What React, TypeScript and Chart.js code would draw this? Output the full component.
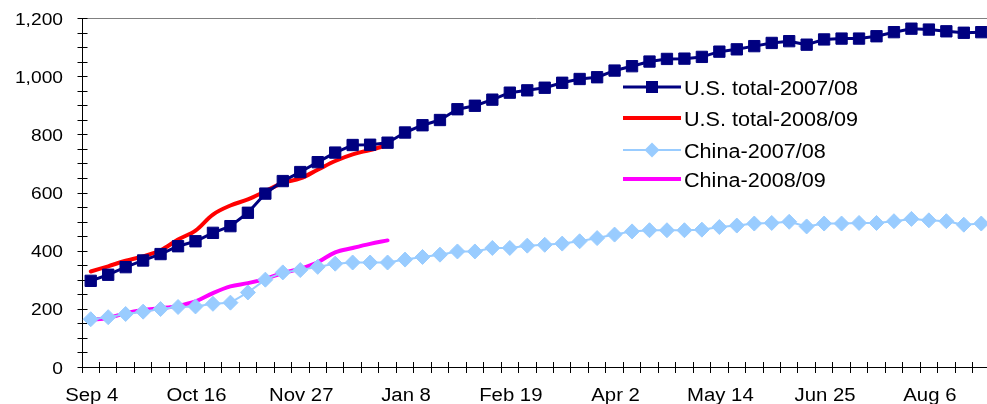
import React, { useEffect, useRef } from "react";
import { Chart, registerables } from "chart.js";

Chart.register(...registerables);

// ---- Data ----
const weeks = [
  "Sep 4", "Sep 11", "Sep 18", "Sep 25", "Oct 2", "Oct 9", "Oct 16", "Oct 23", "Oct 30",
  "Nov 6", "Nov 13", "Nov 20", "Nov 27", "Dec 4", "Dec 11", "Dec 18", "Dec 25", "Jan 1",
  "Jan 8", "Jan 15", "Jan 22", "Jan 29", "Feb 5", "Feb 12", "Feb 19", "Feb 26", "Mar 5",
  "Mar 12", "Mar 19", "Mar 26", "Apr 2", "Apr 9", "Apr 16", "Apr 23", "Apr 30", "May 7",
  "May 14", "May 21", "May 28", "Jun 4", "Jun 11", "Jun 18", "Jun 25", "Jul 2", "Jul 9",
  "Jul 16", "Jul 23", "Jul 30", "Aug 6", "Aug 13", "Aug 20", "Aug 27",
];

const xTickLabels = ["Sep 4", "Oct 16", "Nov 27", "Jan 8", "Feb 19", "Apr 2", "May 14", "Jun 25", "Aug 6"];
const yTickValues = [0, 200, 400, 600, 800, 1000, 1200];
const yMinorStep = 50;

const usTotal0708 = [
  298, 319, 345, 368, 390, 417, 434, 463, 486, 532, 598, 641, 672, 706, 739, 765, 766, 773,
  808, 833, 851, 888, 900, 921, 945, 953, 962, 979, 992, 998, 1021, 1036, 1052, 1061, 1062,
  1068, 1086, 1094, 1105, 1116, 1122, 1110, 1128, 1131, 1131, 1139, 1153, 1165, 1162, 1156,
  1151, 1153,
];
const usTotal0809 = [
  330, 348, 367, 382, 403, 440, 471, 526, 557, 578, 606, 635, 650, 680, 710, 733, 748, 765,
];
const china0708 = [
  166, 173, 184, 192, 201, 208, 210, 219, 223, 258, 302, 327, 335, 346, 357, 361, 361, 361,
  371, 380, 388, 399, 399, 411, 411, 419, 422, 426, 434, 445, 457, 468, 472, 472, 472, 474,
  483, 488, 495, 497, 501, 485, 495, 495, 497, 497, 503, 511, 506, 503, 491, 495,
];
const china0809 = [
  164, 170, 187, 198, 204, 212, 227, 256, 279, 290, 305, 325, 340, 362, 396, 411, 425, 437,
];

const seriesLabels = ["U.S. total-2007/08", "U.S. total-2008/09", "China-2007/08", "China-2008/09"];

// ---- Text helper (horizontally stretched text, like the reference) ----
const SX = 1.13;
const FONT_FAMILY = "'Liberation Sans', Arial, sans-serif";

function drawText(
  ctx: CanvasRenderingContext2D,
  text: string,
  x: number,
  y: number,
  align: CanvasTextAlign,
  size: number,
  sx: number
) {
  ctx.save();
  ctx.translate(x, y);
  ctx.scale(sx, 1);
  ctx.font = `${size}px ${FONT_FAMILY}`;
  ctx.fillStyle = "#000";
  ctx.textAlign = align;
  ctx.textBaseline = "alphabetic";
  ctx.fillText(text, 0, 0);
  ctx.restore();
}

function seg(ctx: CanvasRenderingContext2D, x1: number, y1: number, x2: number, y2: number) {
  ctx.beginPath();
  ctx.moveTo(x1, y1);
  ctx.lineTo(x2, y2);
  ctx.stroke();
}

const axesPlugin = {
  id: "customAxes",
  beforeDatasetsDraw(chart: any) {
    const { ctx, chartArea: a, scales } = chart;
    const xs = scales.x;
    const ys = scales.y;
    ctx.save();
    ctx.lineWidth = 1;

    const yTop = Math.floor(ys.getPixelForValue(ys.max)) + 0.5;
    const yBot = Math.floor(ys.getPixelForValue(0)) + 0.5;
    const xLeft = Math.floor(a.left) + 0.5;

    // top gridline
    ctx.strokeStyle = "#808080";
    seg(ctx, xLeft, yTop, a.right, yTop);

    ctx.strokeStyle = "#000";
    // axes
    seg(ctx, xLeft, yTop, xLeft, yBot);
    seg(ctx, xLeft, yBot, a.right, yBot);

    // y ticks (crossing)
    for (let v = 0; v <= ys.max; v += yMinorStep) {
      const py = Math.floor(ys.getPixelForValue(v)) + 0.5;
      seg(ctx, xLeft - 5, py, xLeft + 5, py);
    }
    // x ticks at category boundaries (crossing)
    for (let i = 0; i <= weeks.length; i++) {
      const px = Math.floor(xs.getPixelForValue(i - 0.5)) + 0.5;
      seg(ctx, px, yBot - 5.5, px, yBot + 5.5);
    }

    // y labels
    yTickValues.forEach((v) => {
      const py = ys.getPixelForValue(v);
      drawText(ctx, v.toLocaleString("en-US"), a.left - 19, py + 6, "right", 17, SX);
    });
    // x labels
    xTickLabels.forEach((lab) => {
      const idx = weeks.indexOf(lab);
      if (idx < 0) return;
      const px = xs.getPixelForValue(idx);
      drawText(ctx, lab, px + 1, a.bottom + 33.5, "center", 18, SX);
    });
    ctx.restore();
  },
};

const legendPlugin = {
  id: "insideLegend",
  afterDraw(chart: any) {
    const ctx: CanvasRenderingContext2D = chart.ctx;
    const rows = [87, 118, 150, 179];
    const x1 = 623;
    const x2 = 681;
    chart.data.datasets.forEach((ds: any, i: number) => {
      const y = rows[i];
      ctx.save();
      ctx.strokeStyle = ds.borderColor;
      ctx.lineWidth = ds.borderWidth;
      ctx.lineCap = "butt";
      seg(ctx, x1, y, x2, y);
      const cx = (x1 + x2) / 2;
      if (ds.pointRadius > 0) {
        ctx.fillStyle = ds.backgroundColor;
        ctx.beginPath();
        if (ds.pointStyle === "rect") {
          const h = 6;
          ctx.rect(cx - h, y - h, 2 * h, 2 * h);
        } else {
          const r = 7.5;
          ctx.moveTo(cx - r, y);
          ctx.lineTo(cx, y - r);
          ctx.lineTo(cx + r, y);
          ctx.lineTo(cx, y + r);
          ctx.closePath();
        }
        ctx.fill();
      }
      ctx.restore();
      drawText(ctx, ds.label, x2 + 3, y + 7.5, "left", 20, 1.08);
    });
  },
};

export default function App() {
  const canvasRef = useRef<HTMLCanvasElement | null>(null);

  useEffect(() => {
    const canvas = canvasRef.current;
    if (!canvas) return;
    const chart = new Chart(canvas, {
      type: "line",
      data: {
        labels: weeks,
        datasets: [
          {
            label: seriesLabels[0],
            data: usTotal0708,
            borderColor: "#000080",
            backgroundColor: "#000080",
            borderWidth: 3,
            pointStyle: "rect",
            pointRadius: 8,
            pointBorderWidth: 1,
            pointBorderColor: "#000080",
            pointBackgroundColor: "#000080",
            tension: 0,
          },
          {
            label: seriesLabels[1],
            data: usTotal0809,
            borderColor: "#FF0000",
            backgroundColor: "#FF0000",
            borderWidth: 4,
            pointRadius: 0,
            tension: 0.35,
          },
          {
            label: seriesLabels[2],
            data: china0708,
            borderColor: "#99CCFF",
            backgroundColor: "#99CCFF",
            borderWidth: 2,
            pointStyle: "rectRot",
            pointRadius: 7.5,
            pointBorderWidth: 1,
            pointBorderColor: "#99CCFF",
            pointBackgroundColor: "#99CCFF",
            tension: 0,
          },
          {
            label: seriesLabels[3],
            data: china0809,
            borderColor: "#FF00FF",
            backgroundColor: "#FF00FF",
            borderWidth: 4,
            pointRadius: 0,
            tension: 0.35,
          },
        ],
      },
      options: {
        responsive: false,
        maintainAspectRatio: false,
        animation: false,
        devicePixelRatio: 1,
        layout: { padding: { left: 82, top: 18.5, right: 10, bottom: 36.5 } },
        elements: { line: { borderJoinStyle: "round", borderCapStyle: "round" } },
        plugins: {
          legend: { display: false },
          tooltip: { enabled: false },
          title: { display: false },
        },
        scales: {
          x: { type: "category", offset: true, display: false },
          y: { type: "linear", min: 0, max: 1200, display: false },
        },
      },
      plugins: [axesPlugin, legendPlugin],
    });
    return () => chart.destroy();
  }, []);

  return (
    <div
      style={{
        position: "fixed",
        left: 0,
        top: 0,
        width: 987,
        height: 404,
        overflow: "hidden",
        background: "#fff",
      }}
    >
      <canvas ref={canvasRef} width={1000} height={404} style={{ display: "block" }} />
    </div>
  );
}
